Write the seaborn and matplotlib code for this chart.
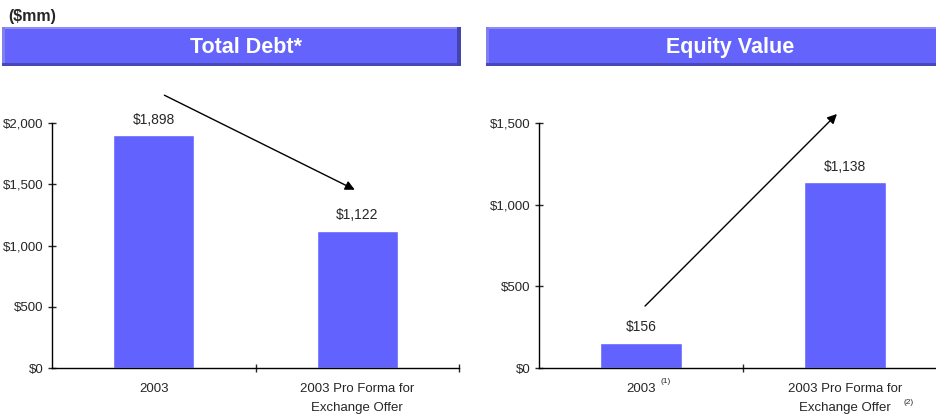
import matplotlib
matplotlib.use("Agg")
import matplotlib.pyplot as plt
from matplotlib.patches import Rectangle
from matplotlib.ticker import FuncFormatter, FixedLocator
import seaborn as sns
import pandas as pd

# Data ($mm)
categories = ["2003", "2003 Pro Forma for\nExchange Offer"]
total_debt = [1898, 1122]
equity_value = [156, 1138]
debt_ticks = [0, 500, 1000, 1500, 2000]
equity_ticks = [0, 500, 1000, 1500]
equity_notes = ["(1)", "(2)"]

sns.set_theme(style="white")
plt.rcParams["font.family"] = ["Liberation Sans", "DejaVu Sans"]

BAR = "#6262FF"
W, H = 937, 418
fig = plt.figure(figsize=(W / 100, H / 100), dpi=100)


def fx(px):
    return px / W


def fy(py):
    return 1 - py / H


# Title banners with a bevelled look
def banner(x0, x1, y0, y1, text, tx):
    fig.patches.append(Rectangle((fx(x0), fy(y1)), fx(x1 - x0), (y1 - y0) / H,
                                 transform=fig.transFigure, facecolor="#6464FC",
                                 edgecolor="none", zorder=1))
    # light top / left edge
    fig.patches.append(Rectangle((fx(x0), fy(y0 + 2)), fx(x1 - x0), 2 / H,
                                 transform=fig.transFigure, facecolor="#8C8CF4",
                                 edgecolor="none", zorder=2))
    fig.patches.append(Rectangle((fx(x0), fy(y1)), fx(3), (y1 - y0) / H,
                                 transform=fig.transFigure, facecolor="#8080F0",
                                 edgecolor="none", zorder=2))
    # dark bottom / right edge
    fig.patches.append(Rectangle((fx(x0), fy(y1)), fx(x1 - x0), 3 / H,
                                 transform=fig.transFigure, facecolor="#4848B8",
                                 edgecolor="none", zorder=2))
    fig.patches.append(Rectangle((fx(x1 - 4), fy(y1)), fx(4), (y1 - y0) / H,
                                 transform=fig.transFigure, facecolor="#4444B0",
                                 edgecolor="none", zorder=2))
    fig.text(fx(tx), fy((y0 + y1) / 2 + 1), text, color="white",
             fontsize=15.5, fontweight="bold", ha="center", va="center", zorder=3)


banner(2, 461, 27, 66, "Total Debt*", 246)
banner(486, 945, 27, 66, "Equity Value", 730)
fig.text(fx(8), fy(16), "($mm)", fontsize=11.5, fontweight="bold",
         ha="left", va="center")


def money(v, _pos=None):
    return f"${v:,.0f}"


def draw_panel(rect, values, ticks, ymax, xmax):
    ax = fig.add_axes(rect)
    df = pd.DataFrame({"cat": categories, "val": values})
    sns.barplot(data=df, x="cat", y="val", color=BAR, width=0.4,
                saturation=1, ax=ax)
    ax.set_xlabel("")
    ax.set_ylabel("")
    for s in ["top", "right"]:
        ax.spines[s].set_visible(False)
    for s in ["left", "bottom"]:
        ax.spines[s].set_color("black")
        ax.spines[s].set_linewidth(1.0)
    ax.yaxis.set_major_locator(FixedLocator(ticks))
    ax.yaxis.set_major_formatter(FuncFormatter(money))
    ax.tick_params(axis="y", direction="inout", length=6, width=1,
                   labelsize=9.5, pad=3, left=True)
    ax.set_xticks(range(len(categories)))
    ax.set_xticklabels(categories, fontsize=9.5, linespacing=1.75)
    ax.tick_params(axis="x", which="major", length=0, pad=11)
    ax.set_xticks([0.5, 1.5], minor=True)
    ax.tick_params(axis="x", which="minor", direction="inout", length=6,
                   width=1, bottom=True)
    ax.set_xlim(-0.5, xmax)
    ax.set_ylim(0, ymax)
    ax.grid(False)
    for i, v in enumerate(values):
        ax.annotate(money(v), (i, v), xytext=(0, 6), textcoords="offset points",
                    ha="center", va="bottom", fontsize=10)
    return ax


ax1 = draw_panel([fx(52), fy(368), fx(459 - 52), 245 / H],
                 total_debt, debt_ticks, 2000, 1.5)
ax2 = draw_panel([fx(539), fy(368), fx(W - 539), 245 / H],
                 equity_value, equity_ticks, 1500, (W - 539) / 204 - 0.5)

# Trend arrows
ax1.annotate("", xy=(1.0, 1445), xytext=(0.04, 2237),
             arrowprops=dict(arrowstyle="-|>", color="black", lw=1,
                             mutation_scale=14),
             annotation_clip=False)
ax2.annotate("", xy=(0.97, 1567), xytext=(0.01, 367),
             arrowprops=dict(arrowstyle="-|>", color="black", lw=1,
                             mutation_scale=14),
             annotation_clip=False)

# Footnote markers next to the equity category labels
ax2.annotate(equity_notes[0], (0, 0), xycoords=("data", "axes fraction"),
             xytext=(14, -10), textcoords="offset points", fontsize=6,
             ha="left", va="center", annotation_clip=False)
ax2.annotate(equity_notes[1], (1, 0), xycoords=("data", "axes fraction"),
             xytext=(42, -25), textcoords="offset points", fontsize=6,
             ha="left", va="center", annotation_clip=False)

fig.savefig("out.png", dpi=100)
